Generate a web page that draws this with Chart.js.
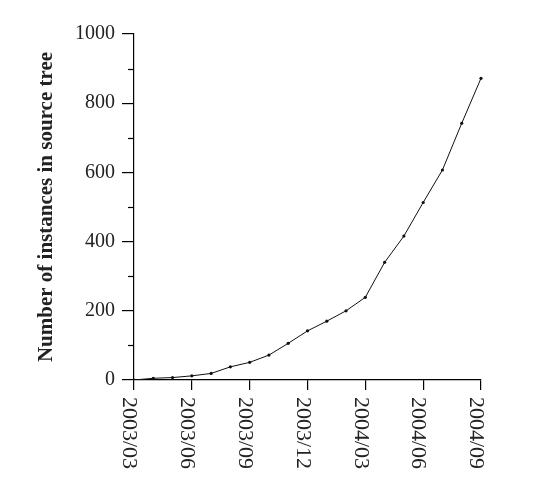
<!DOCTYPE html>
<html>
<head>
<meta charset="UTF-8">
<title>instances</title>
<script src="https://cdn.jsdelivr.net/npm/chart.js@4.4.1/dist/chart.umd.min.js"></script>
<style>
  body { margin: 0; background: #fff; }
  #wrap { width: 560px; height: 491px; }
</style>
</head>
<body>
<div id="wrap"><canvas id="myChart"></canvas></div>

<script>
  // monthly counts
  let months = ["2003/03","2003/04","2003/05","2003/06","2003/07","2003/08","2003/09",
                "2003/10","2003/11","2003/12","2004/01","2004/02","2004/03",
                "2004/04","2004/05","2004/06","2004/07","2004/08","2004/09"];
  let instances = [0, 5, 7, 12, 19, 38, 51, 72, 106, 142, 170, 200, 239,
                   340, 416, 513, 607, 742, 872];
  let yTicks = [0, 200, 400, 600, 800, 1000];
  let yMinor = [100, 300, 500, 700, 900];

  let serif = "'Liberation Serif', 'DejaVu Serif', serif";

  // x labels read top to bottom, and short minor ticks on y
  let axisExtras = {
    id: "axisExtras",
    afterDraw(chart) {
      let ctx = chart.ctx;
      let xs = chart.scales.x;
      let ys = chart.scales.y;
      ctx.save();
      ctx.fillStyle = "#222";
      ctx.font = "22px " + serif;
      ctx.textAlign = "left";
      ctx.textBaseline = "middle";
      for (let i = 0; i < months.length; i += 3) {
        let x = xs.getPixelForValue(i);
        ctx.save();
        ctx.translate(x - 5, xs.top + 17);
        ctx.rotate(Math.PI / 2);
        ctx.fillText(months[i], 0, 0);
        ctx.restore();
      }
      ctx.strokeStyle = "#000";
      ctx.lineWidth = 1.2;
      for (let v of yMinor) {
        let y = Math.round(ys.getPixelForValue(v)) + 0.5;
        ctx.beginPath();
        ctx.moveTo(ys.right - 6, y);
        ctx.lineTo(ys.right, y);
        ctx.stroke();
      }
      ctx.restore();
    }
  };

  new Chart("myChart", {
    type: "line",
    data: {
      labels: months,
      datasets: [{
        data: instances,
        borderColor: "#111",
        borderWidth: 1,
        backgroundColor: "#111",
        pointRadius: 1.6,
        pointBorderWidth: 0,
        tension: 0
      }]
    },
    options: {
      responsive: true,
      maintainAspectRatio: false,
      animation: false,
      layout: { padding: { left: 28, top: 34, right: 79, bottom: 0 } },
      plugins: { legend: { display: false }, tooltip: { enabled: false } },
      scales: {
        x: {
          type: "category",
          offset: false,
          afterFit(scale) { scale.height = 111; },
          border: { display: true, color: "#000", width: 1.2 },
          grid: {
            drawOnChartArea: false,
            tickLength: 10,
            lineWidth: 1.2,
            color: (c) => (c.index % 3 === 0 ? "#000" : "rgba(0,0,0,0)")
          },
          ticks: { display: false, autoSkip: false }
        },
        y: {
          min: 0,
          max: 1000,
          afterFit(scale) { scale.width = 106; },
          afterBuildTicks(scale) { scale.ticks = yTicks.map(v => ({ value: v })); },
          border: { display: true, color: "#000", width: 1.2 },
          grid: { drawOnChartArea: false, tickLength: 12, lineWidth: 1.2, color: "#000" },
          ticks: {
            padding: 7,
            color: "#222",
            font: { family: serif, size: 20 },
            callback: (v) => String(v)
          },
          title: {
            display: true,
            text: "Number of instances in source tree",
            color: "#222",
            padding: { top: 6, bottom: 4 },
            font: { family: serif, size: 21, weight: "bold" }
          }
        }
      }
    },
    plugins: [axisExtras]
  });
</script>
</body>
</html>
